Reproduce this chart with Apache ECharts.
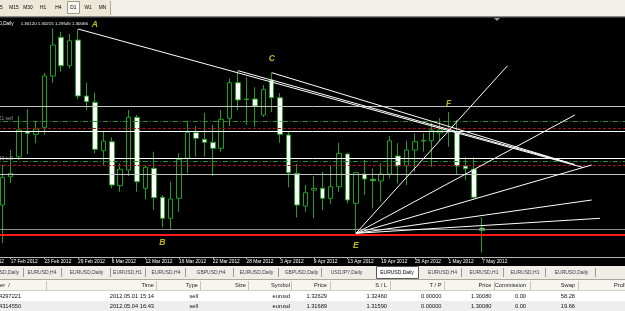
<!DOCTYPE html>
<html>
<head>
<meta charset="utf-8">
<title>EURUSD,Daily</title>
<script src="https://cdn.jsdelivr.net/npm/echarts@6/dist/echarts.min.js"></script>
<style>
  html, body { margin: 0; padding: 0; background: #000; }
  #chart { width: 625px; height: 311px; }
</style>
</head>
<body>
<div id="chart"></div>
<script>
// daily bars; the first three days are off the left edge of the window
var dates = ['13 Feb 2012', '14 Feb 2012', '15 Feb 2012',
  '16 Feb 2012', '17 Feb 2012', '20 Feb 2012', '21 Feb 2012', '22 Feb 2012', '23 Feb 2012', '24 Feb 2012',
  '27 Feb 2012', '28 Feb 2012', '29 Feb 2012', '1 Mar 2012', '2 Mar 2012', '5 Mar 2012', '6 Mar 2012',
  '7 Mar 2012', '8 Mar 2012', '9 Mar 2012', '12 Mar 2012', '13 Mar 2012', '14 Mar 2012', '15 Mar 2012',
  '16 Mar 2012', '19 Mar 2012', '20 Mar 2012', '21 Mar 2012', '22 Mar 2012', '23 Mar 2012', '26 Mar 2012',
  '27 Mar 2012', '28 Mar 2012', '29 Mar 2012', '30 Mar 2012', '2 Apr 2012', '3 Apr 2012', '4 Apr 2012',
  '5 Apr 2012', '6 Apr 2012', '9 Apr 2012', '10 Apr 2012', '11 Apr 2012', '12 Apr 2012', '13 Apr 2012',
  '16 Apr 2012', '17 Apr 2012', '18 Apr 2012', '19 Apr 2012', '20 Apr 2012', '23 Apr 2012', '24 Apr 2012',
  '25 Apr 2012', '26 Apr 2012', '27 Apr 2012', '30 Apr 2012', '1 May 2012', '2 May 2012', '3 May 2012',
  '4 May 2012', '7 May 2012'];
var hiddenBars = 3;

var openPrices = [1.30662, 1.31328, 1.31798, 1.32386, 1.32325, 1.32490, 1.33696, 1.34606, 1.33938, 1.34542,
  1.33226, 1.33077, 1.31939, 1.32151, 1.31116, 1.31485, 1.32725, 1.31055, 1.31525, 1.30844,
  1.30350, 1.30820, 1.31761, 1.32363, 1.32207, 1.32137, 1.31996, 1.32701, 1.33538, 1.33155,
  1.33155, 1.32779, 1.33602, 1.33186, 1.32309, 1.31408, 1.30639, 1.31015, 1.31055, 1.30820,
  1.31093, 1.31862, 1.30702, 1.31391, 1.31267, 1.31227, 1.31391, 1.31815, 1.31580, 1.31956,
  1.32184, 1.32174, 1.32356, 1.32403, 1.32363, 1.31580, 1.31502, 1.30120];
var closePrices = [1.31314, 1.31408, 1.32426, 1.32349, 1.32450, 1.33696, 1.34425, 1.33938, 1.34526, 1.33226,
  1.33092, 1.31972, 1.32167, 1.31133, 1.31502, 1.32725, 1.31210, 1.31549, 1.30834, 1.30350,
  1.30804, 1.31737, 1.32372, 1.32231, 1.32137, 1.31996, 1.32678, 1.33538, 1.33132, 1.33141,
  1.32990, 1.33383, 1.33186, 1.32325, 1.31422, 1.30662, 1.30952, 1.31055, 1.30820, 1.31093,
  1.31878, 1.30780, 1.31422, 1.31274, 1.31234, 1.31391, 1.32174, 1.31580, 1.31956, 1.32151,
  1.32167, 1.32426, 1.32426, 1.32379, 1.31580, 1.31516, 1.30844, 1.30066];
var highPrices = [1.31603, 1.31956, 1.32755, 1.32920, 1.32645, 1.33766, 1.34818, 1.34738, 1.34684, 1.34801,
  1.33538, 1.33303, 1.32386, 1.32254, 1.31643, 1.32896, 1.32779, 1.31603, 1.31916, 1.30898,
  1.31210, 1.31878, 1.32645, 1.32520, 1.32833, 1.32544, 1.32896, 1.33642, 1.33821, 1.33665,
  1.33430, 1.33484, 1.33774, 1.33296, 1.32386, 1.31627, 1.31133, 1.31344, 1.31446, 1.31580,
  1.32127, 1.31892, 1.31446, 1.31721, 1.31525, 1.31643, 1.32285, 1.32113, 1.32174, 1.32349,
  1.32349, 1.32598, 1.32708, 1.32849, 1.32661, 1.31784, 1.31784, 1.30370];
var lowPrices = [1.29769, 1.31180, 1.31721, 1.31862, 1.32113, 1.32309, 1.33538, 1.33797, 1.33877, 1.33148,
  1.32896, 1.31878, 1.31603, 1.31055, 1.30975, 1.31344, 1.30975, 1.30797, 1.30545, 1.30138,
  1.30075, 1.30505, 1.31408, 1.31798, 1.31798, 1.31344, 1.31916, 1.32520, 1.32896, 1.32544,
  1.32504, 1.32732, 1.32849, 1.32127, 1.31079, 1.30373, 1.30505, 1.30350, 1.30545, 1.30686,
  1.30975, 1.30702, 1.29997, 1.30898, 1.30585, 1.30740, 1.31290, 1.31173, 1.31133, 1.31446,
  1.31916, 1.31563, 1.32167, 1.32033, 1.31368, 1.31250, 1.30820, 1.29545];

// horizontal lines: plain levels, bid, support
var levelPrices = [1.32990, 1.32403, 1.31768, 1.31391];
var bidPrice = 1.30100;
var supportPrice = 1.29957;
// open orders
var orderTickets = ['4297221', '4314550'];
var orderOpen = [1.32629, 1.31689];
var orderStop = [1.32460, 1.31590];

// trend lines [bar index, price]
var trendStart = [[12, 1.34801], [31, 1.33821], [35, 1.33774]];
var trendEnd = [[72, 1.31544], [71, 1.31615], [70, 1.31670]];
var fanOrigin = [45, 1.29997];
var fanEnds = [[63, 1.33938], [71, 1.32779], [73, 1.31603], [73, 1.30780], [74, 1.30350]];

// wave letters
var noteLetters = ['A', 'B', 'C', 'E', 'F'];
var noteBars = [14, 22, 35, 45, 56];
var notePrices = [1.34895, 1.29781, 1.34112, 1.29698, 1.33037];

// terminal chrome
var headerSymbol = 'EURUSD,Daily';
var headerValues = '1.30120 1.30215 1.29545 1.30066';
var periodButtons = ['M5', 'M15', 'M30', 'H1', 'H4', 'D1', 'W1', 'MN'];
var chartTabs = ['EURUSD,Daily', 'EURUSD,H4', 'EURUSD,Daily', 'EURUSD,H1', 'EURUSD,H4', 'GBPUSD,H4',
  'EURUSD,Daily', 'GBPUSD,Daily', 'USDJPY,Daily', 'EURUSD,Daily', 'EURUSD,H4', 'EURUSD,H1',
  'EURUSD,H1', 'EURUSD,Daily'];
var columnTitles = ['Order  /', 'Time', 'Type', 'Size', 'Symbol', 'Price', 'S / L', 'T / P', 'Price',
  'Commission', 'Swap', 'Profit'];
var order1 = ['4297221', '2012.05.01 15:14', 'sell', '', 'eurusd', '1.32629', '1.32460', '0.00000',
  '1.30080', '0.00', '58.28', ''];
var order2 = ['4314550', '2012.05.04 16:43', 'sell', '', 'eurusd', '1.31689', '1.31590', '0.00000',
  '1.30080', '0.00', '19.66', ''];

var FONT = '"Liberation Sans", Arial, sans-serif';
var GREEN = '#1f9f1f';

var categories = dates.concat(new Array(17).fill(''));
var candles = categories.map(function (d, k) {
    var i = k - hiddenBars;
    if (i < 0 || i >= openPrices.length) return '-';
    return [openPrices[i], closePrices[i], lowPrices[i], highPrices[i]];
});

function segment(name, a, b) {
    return {
        name: name, type: 'line', data: [a, b], symbol: 'none', silent: true, z: 5,
        lineStyle: {color: '#ffffff', width: 1}
    };
}

// --- chrome helpers (pixels)
function txt(s, x, y, size, fill, align) {
    return {type: 'text', x: x, y: y, silent: true, z: 100,
        style: {text: s, fill: fill, font: size + 'px ' + FONT, textAlign: align || 'left', textVerticalAlign: 'middle'}};
}
function box(x, y, w, h, fill, stroke) {
    return {type: 'rect', silent: true, z: 90, shape: {x: x, y: y, width: w, height: h},
        style: {fill: fill, stroke: stroke || null, lineWidth: 1}};
}
function rule(x1, y1, x2, y2, color) {
    return {type: 'line', silent: true, z: 95, shape: {x1: x1, y1: y1, x2: x2, y2: y2},
        style: {stroke: color, lineWidth: 1}};
}

var g = [];
// toolbar
g.push(box(0, 0, 625, 17, '#ebe8d8'));
g.push(box(111, 0, 514, 16, '#f1efe7'));
g.push(rule(0, 16.5, 625, 16.5, '#8c8a80'));
g.push(rule(0, 17.5, 625, 17.5, '#333333'));
g.push(rule(110.5, 1, 110.5, 15, '#aca899'));
g.push(box(67.5, 1.5, 12, 12, '#f8f7f2', '#9d9a8c'));
var btnX = [-0.6, 14, 28, 43, 58.3, 73.3, 88, 102.5];
periodButtons.forEach(function (b, k) { g.push(txt(b, btnX[k], 7.5, 4.8, '#000', 'center')); });
// chart-shift marker
g.push({type: 'polygon', silent: true, z: 95, shape: {points: [[494, 18], [500, 18], [497, 21]]}, style: {fill: '#9a9a9a'}});
// chart header
g.push(txt(headerSymbol, 13.5, 24, 4.6, '#ffffff', 'right'));
g.push(txt(headerValues, 20.7, 24, 4.4, '#ffffff', 'left'));

// tab row
g.push(box(0, 266, 625, 13, '#efede6'));
g.push(box(376.5, 266.5, 42, 12, '#ffffff', '#5a5a5a'));
var tabX = [2.2, 42, 86.5, 127.5, 166, 211, 256.5, 301.5, 346.5, 397, 442.5, 484, 525, 571.5];
chartTabs.forEach(function (t, k) {
    g.push(txt(t, tabX[k], 272.5, 5, k === 9 ? '#000' : '#3c3c46', 'center'));
});
[23.5, 61.5, 110.5, 145.5, 185.5, 233.5, 278.5, 321.5, 461.5, 503.5, 545.5, 595.5].forEach(function (x) {
    g.push(rule(x, 268, x, 277, '#9a9a9a'));
});
g.push(rule(0, 279.5, 625, 279.5, '#aca899'));

// orders table
g.push(box(0, 280, 625, 11, '#f6f5ef'));
g.push(rule(0, 290.5, 625, 290.5, '#d3d0c2'));
g.push(box(0, 291, 625, 10, '#ffffff'));
g.push(box(0, 301, 625, 10, '#eeeeee'));
[46.5, 156.5, 200.5, 248.5, 291.5, 330.5, 390.5, 444.5, 494.5, 530.5, 578.5].forEach(function (x) {
    g.push(rule(x, 281, x, 290, '#c9c6b6'));
});
var colX = [-9.5, 154, 198, 246, 290, 327, 387, 441.5, 491.5, 526, 575, 614];
function colAlign(c) { return (c === 0 || c === 11) ? 'left' : 'right'; }
columnTitles.forEach(function (t, c) { g.push(txt(t, colX[c], 285.5, 5.7, '#1a1a1a', colAlign(c))); });
[order1, order2].forEach(function (row, r) {
    row.forEach(function (t, c) {
        g.push(txt(t, c === 0 ? -1 : colX[c], 296.5 + r * 10, 5.7, '#111', colAlign(c)));
    });
});

var levelLines = [];
levelPrices.forEach(function (p, k) {
    levelLines.push({yAxis: p, lineStyle: {color: k === 0 || k === 3 ? '#c4c4c4' : '#ffffff', width: 1, type: 'solid'}});
});
levelLines.push({yAxis: bidPrice, lineStyle: {color: '#8c8c8c', width: 1, type: 'solid'}});
levelLines.push({yAxis: supportPrice, lineStyle: {color: '#ff1a1a', width: 2, type: 'solid'}});
orderOpen.forEach(function (p) {
    levelLines.push({yAxis: p, lineStyle: {color: '#2f8f2f', width: 1, type: [5, 2, 1, 2]}});
});
orderStop.forEach(function (p) {
    levelLines.push({yAxis: p, lineStyle: {color: '#a51616', width: 1, type: [3, 2]}});
});

var series = [{
    name: 'EURUSD', type: 'candlestick', data: candles, barWidth: 5, z: 3,
    itemStyle: {color: '#000000', color0: '#ffffff', borderColor: GREEN, borderColor0: GREEN, borderWidth: 1},
    markLine: {
        silent: true, symbol: ['none', 'none'], label: {show: false}, animation: false, precision: 6,
        data: levelLines
    }
}];
trendStart.forEach(function (a, k) { series.push(segment('trend' + k, a, trendEnd[k])); });
fanEnds.forEach(function (b, k) { series.push(segment('fan' + k, fanOrigin, b)); });
series.push({
    name: 'notes', type: 'scatter', symbolSize: 1, itemStyle: {color: 'rgba(0,0,0,0)'}, silent: true, z: 6,
    data: noteLetters.map(function (s, k) { return {name: s, value: [noteBars[k], notePrices[k]]}; }),
    label: {show: true, position: 'inside', formatter: '{b}', color: '#f2e21e', fontSize: 8.5,
        fontStyle: 'italic', fontWeight: 'bold', fontFamily: FONT}
});
series.push({
    name: 'orders', type: 'scatter', symbolSize: 1, itemStyle: {color: 'rgba(0,0,0,0)'}, silent: true, z: 6,
    data: orderTickets.map(function (t, k) { return {name: '#' + t + ' sell', value: [hiddenBars, orderOpen[k]]}; }),
    label: {show: true, position: 'inside', formatter: '{b}', align: 'right', offset: [10.4, -3],
        color: '#bdbdbd', fontSize: 4.8, fontFamily: FONT}
});

var chart = echarts.init(document.getElementById('chart'));
chart.setOption({
    animation: false,
    backgroundColor: '#000000',
    textStyle: {fontFamily: FONT},
    grid: {left: -27.17, right: -4.59, top: 18, bottom: 54, containLabel: false, outerBoundsMode: 'none'},
    xAxis: {
        type: 'category', data: categories, boundaryGap: true,
        axisLine: {show: true, lineStyle: {color: '#b4b4b4', width: 1}},
        axisTick: {show: true, alignWithLabel: true, length: 2, lineStyle: {color: '#b4b4b4'},
            interval: function (idx) { return idx % 4 === 0 && idx < dates.length; }},
        axisLabel: {
            interval: function (idx) { return idx % 4 === 0 && idx < dates.length; },
            align: 'left', color: '#ffffff', fontSize: 4.8, fontFamily: FONT, margin: 2, hideOverlap: false
        },
        splitLine: {show: false}
    },
    yAxis: {
        type: 'value', min: 1.2944, max: 1.3506, show: false, scale: true,
        splitLine: {show: false}
    },
    series: series,
    graphic: g
});
</script>
</body>
</html>
